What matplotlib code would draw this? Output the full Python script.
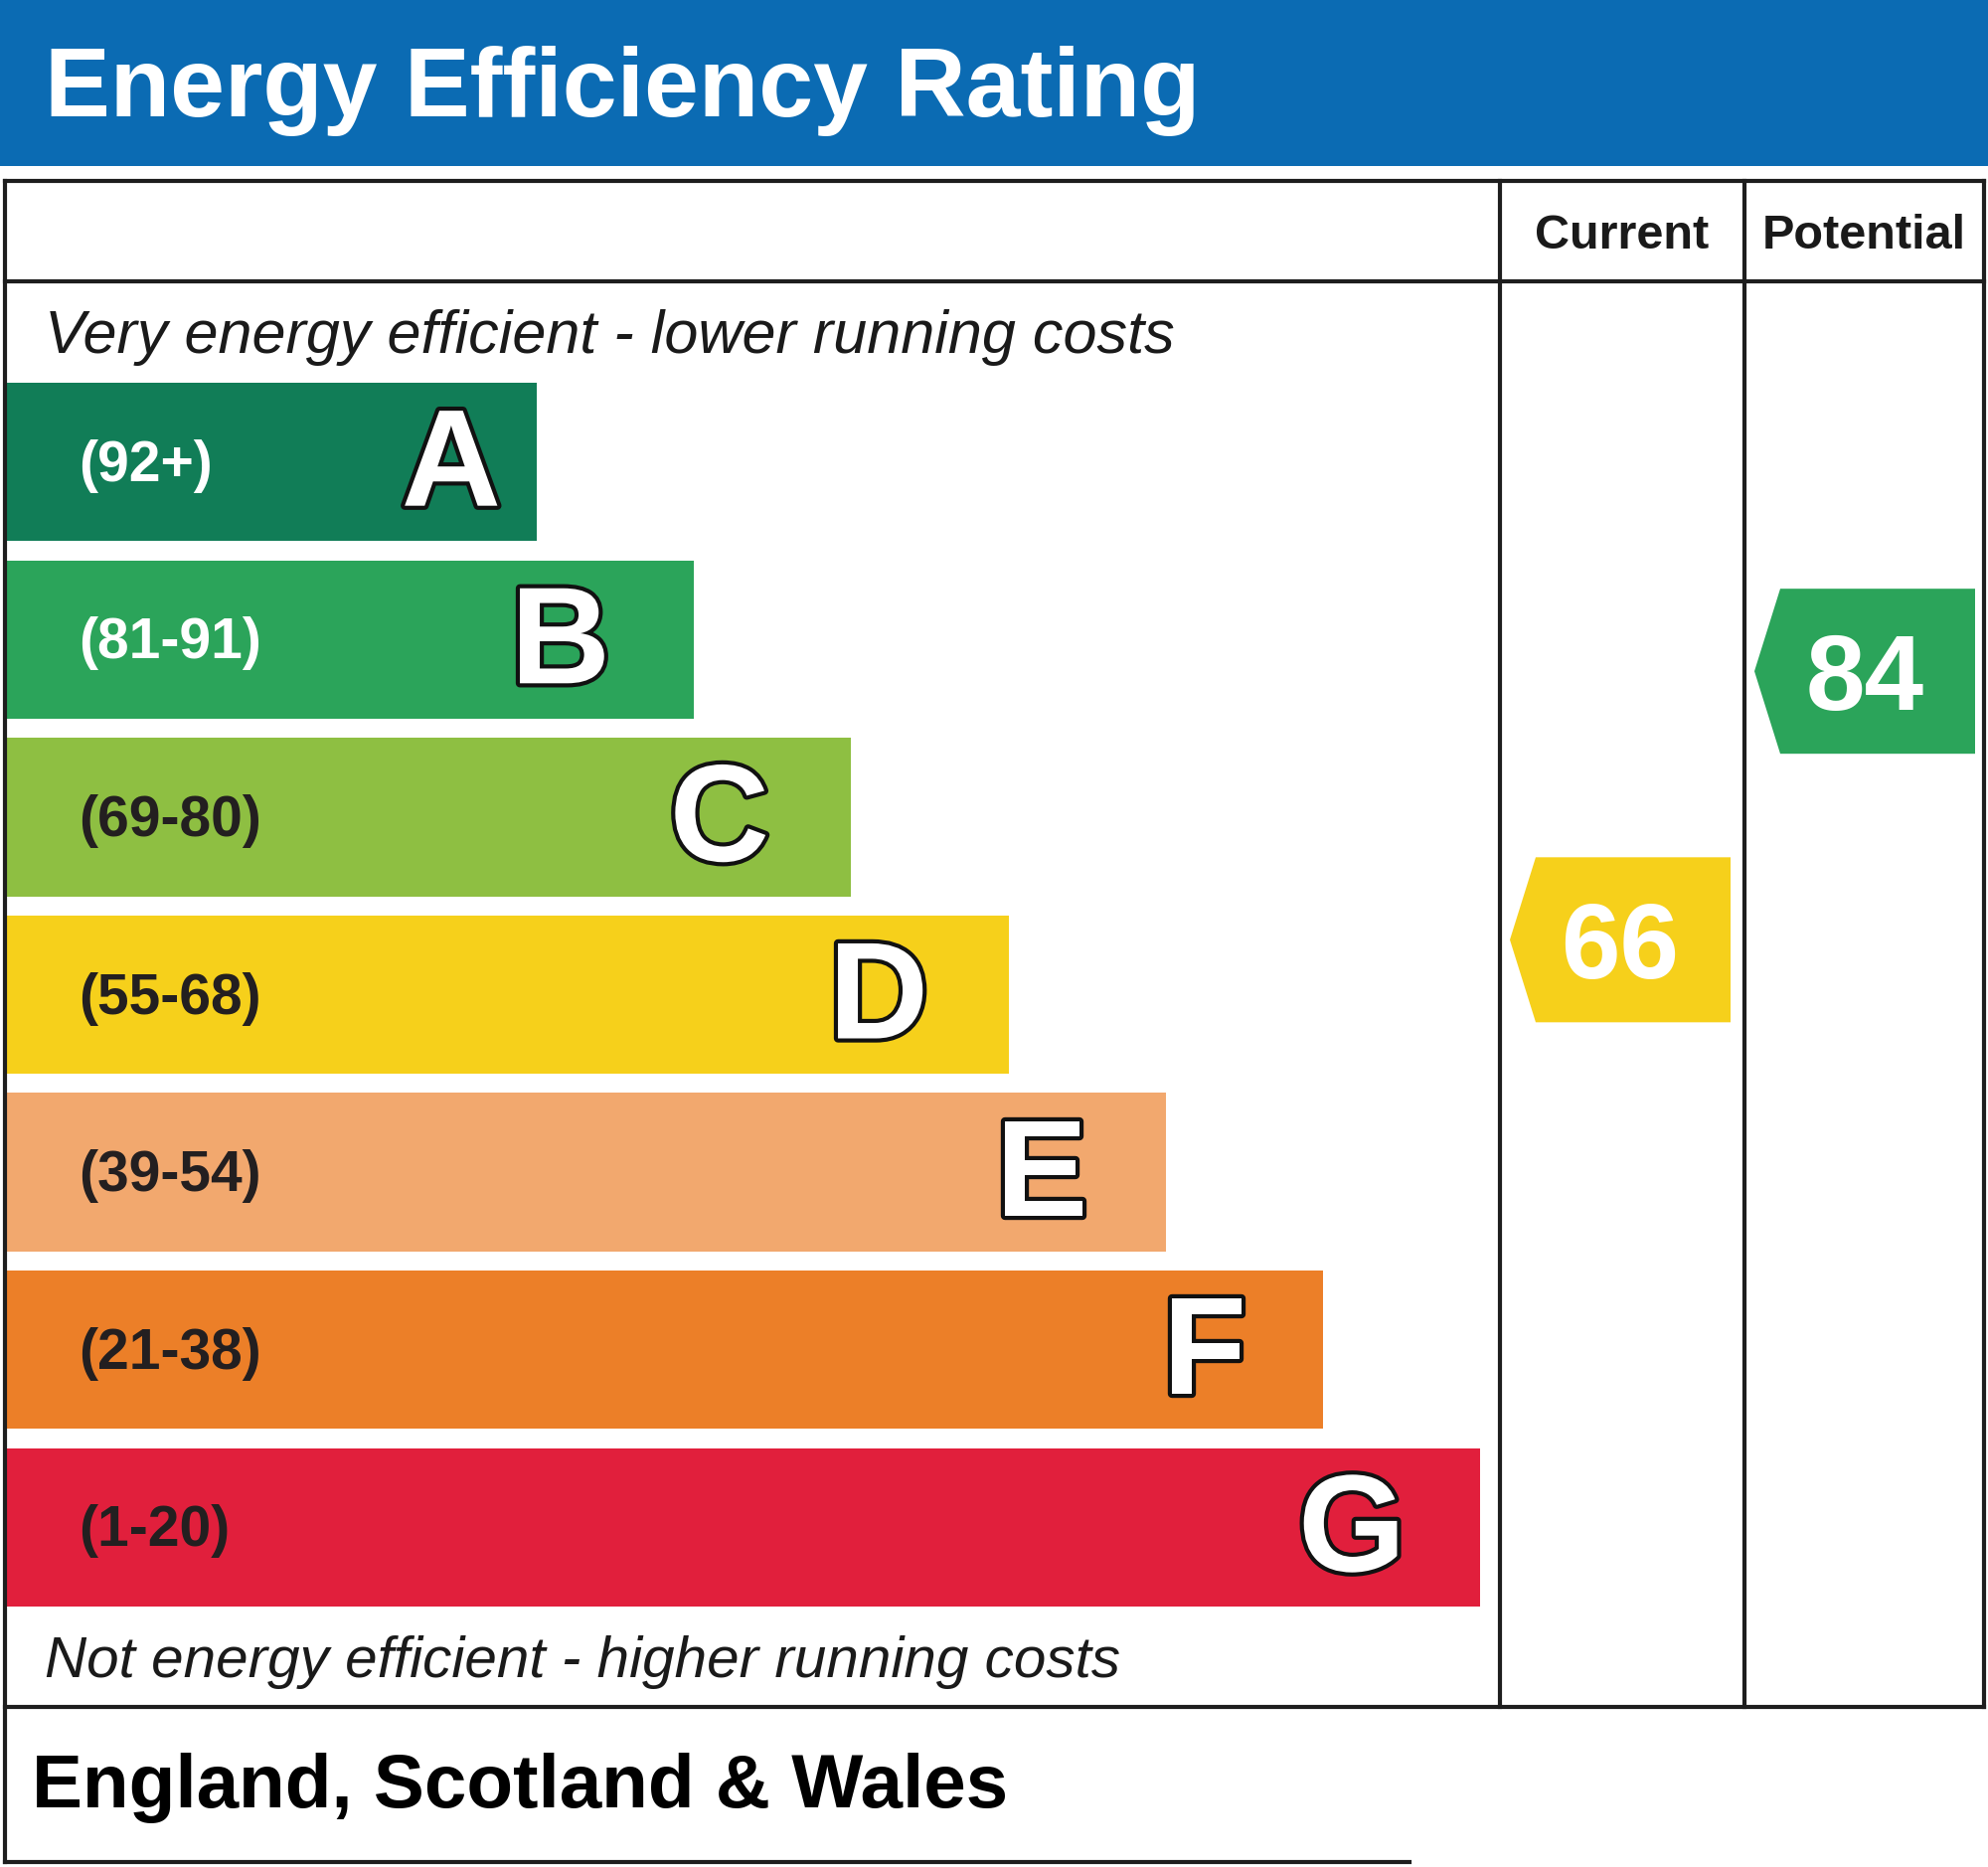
# EPC style energy efficiency rating chart
import matplotlib.pyplot as plt
import matplotlib.patheffects as pe
from matplotlib.patches import Polygon

# Data
bands = ['A', 'B', 'C', 'D', 'E', 'F', 'G']
band_ranges = ['(92+)', '(81-91)', '(69-80)', '(55-68)', '(39-54)', '(21-38)', '(1-20)']
band_hi = [100, 91, 80, 68, 54, 38, 20]
band_lo = [92, 81, 69, 55, 39, 21, 1]
band_colors = ['#117d57', '#2ba45a', '#8ebf42', '#f6d01b', '#f2a86e', '#ec7f28', '#e11f3c']
range_text_colors = ['white', 'white', '#231f20', '#231f20', '#231f20', '#231f20', '#231f20']
columns = ['Current', 'Potential']
ratings = [66, 84]

W, H = 2000, 1878
FONT = 'Liberation Sans'

fig = plt.figure(figsize=(W / 100, H / 100), dpi=100)
ax = fig.add_axes([0, 0, 1, 1])
ax.set_xlim(0, W)
ax.set_ylim(H, 0)
ax.axis('off')

# blue title strip
ax.fill_between([0, W], 0, 167, color='#0b6bb3', lw=0)
ax.text(45, 117, 'Energy Efficiency Rating', color='white', fontsize=71,
        fontweight='bold', family=FONT, va='baseline', ha='left')

# table frame
lw = 3
line_col = '#1e1e1e'
left, right = 5, 1996
top, head_bot, tab_bot, foot_bot, foot_right = 182, 283, 1717, 1873, 1418
col_x = [1509, 1755, right]
ax.plot([left, right], [top, top], color=line_col, lw=lw)
ax.plot([left, right], [head_bot, head_bot], color=line_col, lw=lw)
ax.plot([left, right], [tab_bot, tab_bot], color=line_col, lw=lw)
ax.plot([left, foot_right], [foot_bot, foot_bot], color=line_col, lw=lw)
ax.plot([left, left], [top, foot_bot], color=line_col, lw=lw)
ax.plot([right, right], [top, tab_bot], color=line_col, lw=lw)
for x in col_x[:2]:
    ax.plot([x, x], [top, tab_bot], color=line_col, lw=lw)

# column headers
for i, name in enumerate(columns):
    cx = (col_x[i] + col_x[i + 1]) / 2
    ax.text(cx, 250, name, fontsize=35, fontweight='bold', family=FONT,
            color='#1a1a1a', ha='center', va='baseline')

ax.text(45, 355, 'Very energy efficient - lower running costs', fontsize=44,
        style='italic', family=FONT, color='#1a1a1a', va='baseline')
ax.text(45, 1687, 'Not energy efficient - higher running costs', fontsize=42,
        style='italic', family=FONT, color='#1a1a1a', va='baseline')
ax.text(32, 1818, 'England, Scotland & Wales', fontsize=55, fontweight='bold',
        family=FONT, color='black', va='baseline')

# bands
band_top0, pitch, band_h = 385, 178.6, 159.4
end0, step = 540, 158.2
tops = [band_top0 + pitch * i for i in range(len(bands))]
centers = [t + band_h / 2 for t in tops]
ends = [end0 + step * i for i in range(len(bands))]
ax.barh(centers, [e - left for e in ends], left=left, height=band_h,
        color=band_colors, lw=0)

# gap between bar end and its letter (the short A bar keeps it tighter)
letter_pad = [36] + [86 - 1.8 * i for i in range(1, len(bands))]

outline = [pe.withStroke(linewidth=6, foreground='#111111')]
for i, b in enumerate(bands):
    ax.text(79, centers[i] + 19, band_ranges[i], fontsize=41, fontweight='bold',
            family=FONT, color=range_text_colors[i], va='baseline', ha='left')
    ax.text(ends[i] - letter_pad[i], centers[i] + 44, b, fontsize=100,
            fontweight='bold', family=FONT, color='white', va='baseline',
            ha='right', path_effects=outline)


def rating_y(v):
    # place arrow inside its band, proportional to the value
    for i in range(len(bands)):
        if band_lo[i] <= v <= band_hi[i]:
            return tops[i] + (band_hi[i] - v) / (band_hi[i] - band_lo[i]) * band_h
    return tops[-1]


def rating_color(v):
    for i in range(len(bands)):
        if band_lo[i] <= v <= band_hi[i]:
            return band_colors[i]
    return band_colors[-1]


arrow_w, arrow_h, tip = 222, 166, 26
for i, v in enumerate(ratings):
    cy = rating_y(v)
    x0 = col_x[i] + 10
    pts = [(x0, cy), (x0 + tip, cy - arrow_h / 2), (x0 + arrow_w, cy - arrow_h / 2),
           (x0 + arrow_w, cy + arrow_h / 2), (x0 + tip, cy + arrow_h / 2)]
    ax.add_patch(Polygon(pts, closed=True, color=rating_color(v), lw=0))
    ax.text(x0 + arrow_w / 2, cy + 39, str(v), fontsize=77, fontweight='bold',
            family=FONT, color='white', ha='center', va='baseline')

fig.savefig('out.png', dpi=100, facecolor='white')
